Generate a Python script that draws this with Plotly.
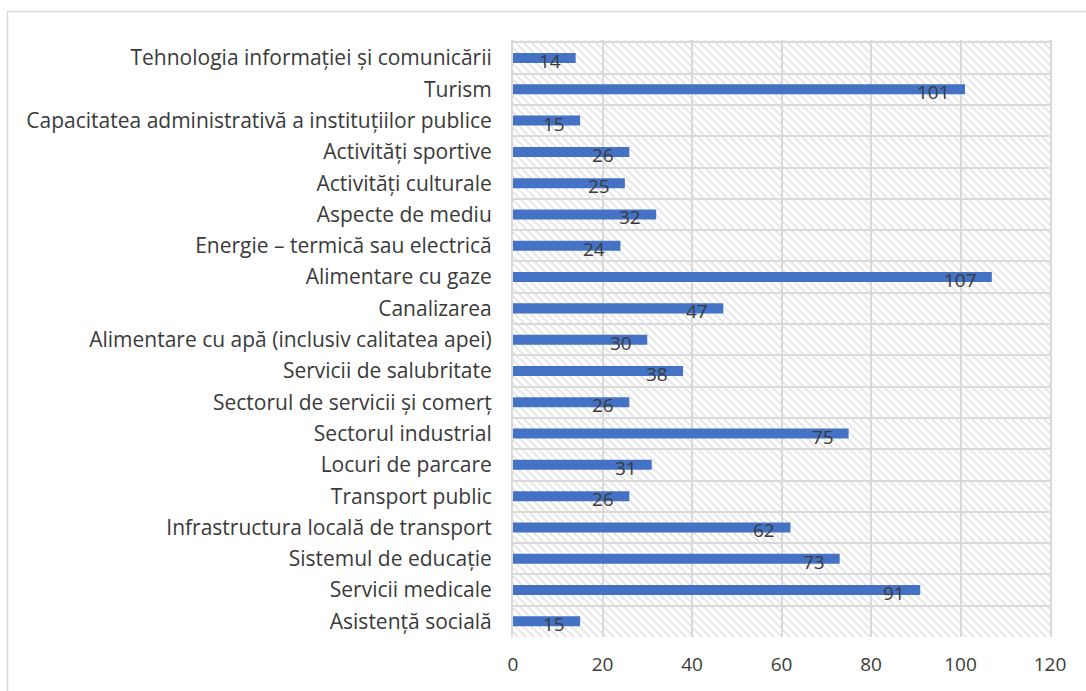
import base64
import plotly.graph_objects as go

# Categories (top to bottom) and their counts
categories = [
    "Tehnologia informației și comunicării",
    "Turism",
    "Capacitatea administrativă a instituțiilor publice",
    "Activități sportive",
    "Activități culturale",
    "Aspecte de mediu",
    "Energie – termică sau electrică",
    "Alimentare cu gaze",
    "Canalizarea",
    "Alimentare cu apă (inclusiv calitatea apei)",
    "Servicii de salubritate",
    "Sectorul de servicii și comerț",
    "Sectorul industrial",
    "Locuri de parcare",
    "Transport public",
    "Infrastructura locală de transport",
    "Sistemul de educație",
    "Servicii medicale",
    "Asistență socială",
]
values = [14, 101, 15, 26, 25, 32, 24, 107, 47, 30, 38, 26, 75, 31, 26, 62, 73, 91, 15]
x_ticks = [0, 20, 40, 60, 80, 100, 120]

W, H = 1086, 691
ML, MR, MT, MB = 513, 36, 40, 54
PW, PH = W - ML - MR, H - MT - MB

FONT = "Open Sans"
TEXT = "#3a3a3a"
GRID = "#d9d9d9"
BAR = "#4472C4"

# Diagonal hatch fill for the plotting area
svg = f"""<svg xmlns="http://www.w3.org/2000/svg" width="{PW}" height="{PH}">
<defs><pattern id="h" width="8" height="8" patternUnits="userSpaceOnUse">
<rect width="8" height="8" fill="#ffffff"/>
<path d="M-1,-1 L9,9 M-1,7 L1,9 M7,-1 L9,1" stroke="#e0e0e0" stroke-width="1.5"/>
</pattern></defs>
<rect width="{PW}" height="{PH}" fill="url(#h)"/></svg>"""
hatch = "data:image/svg+xml;base64," + base64.b64encode(svg.encode()).decode()

fig = go.Figure()
fig.add_trace(go.Bar(
    x=values, y=categories, orientation="h",
    width=0.32, marker=dict(color=BAR, line=dict(width=0)),
    hoverinfo="x+y",
))

# Value labels at the inner end of each bar
for c, v in zip(categories, values):
    fig.add_annotation(
        x=v, y=c, text=str(v), showarrow=False,
        xanchor="right", xshift=-13, yshift=-3,
        font=dict(family=FONT, size=19, color=TEXT),
    )

fig.add_layout_image(dict(
    source=hatch, xref="x domain", yref="y domain",
    x=0, y=1, sizex=1, sizey=1, xanchor="left", yanchor="top",
    sizing="stretch", layer="below",
))

# Outer chart frame
fig.add_shape(type="rect", xref="paper", yref="paper",
              x0=-(ML - 7.5) / PW, x1=(PW + MR + 20) / PW,
              y0=-(MB + 20) / PH, y1=1 + (MT - 11.5) / PH,
              line=dict(color=GRID, width=1.5), fillcolor="rgba(0,0,0,0)", layer="below")

fig.update_layout(
    width=W, height=H,
    margin=dict(l=ML, r=MR, t=MT, b=MB, autoexpand=False),
    paper_bgcolor="white", plot_bgcolor="rgba(0,0,0,0)",
    showlegend=False,
    font=dict(family=FONT, size=19, color=TEXT),
    xaxis=dict(
        range=[0, 120], tickvals=x_ticks, showgrid=True, gridcolor=GRID, gridwidth=2,
        zeroline=False, showline=False, ticks="", ticklabelstandoff=14,
        tickfont=dict(family=FONT, size=19, color=TEXT), fixedrange=True,
        automargin=False,
    ),
    yaxis=dict(
        type="category", autorange="reversed", tickson="boundaries",
        showgrid=True, gridcolor=GRID, gridwidth=2,
        showline=True, linecolor=GRID, linewidth=2, mirror=True,
        ticks="", ticklabelstandoff=15,
        tickfont=dict(family=FONT, size=21, color=TEXT), fixedrange=True,
        automargin=False,
    ),
)

fig.write_html("out.html")
